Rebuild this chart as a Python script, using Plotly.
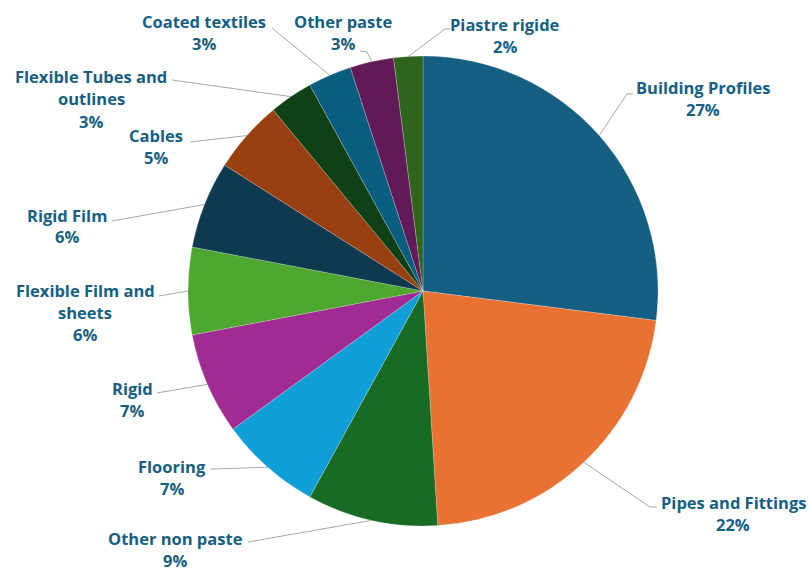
import math
import plotly.graph_objects as go

# ---------------- data ----------------
categories = [
    "Building Profiles", "Pipes and Fittings", "Other non paste", "Flooring",
    "Rigid", "Flexible Film and sheets", "Rigid Film", "Cables",
    "Flexible Tubes and outlines", "Coated textiles", "Other paste", "Piastre rigide",
]
values = [27, 22, 9, 7, 7, 6, 6, 5, 3, 3, 3, 2]

# label text lines (name split as in the chart)
name_lines = [
    ["Building Profiles"], ["Pipes and Fittings"], ["Other non paste"], ["Flooring"],
    ["Rigid"], ["Flexible Film and", "sheets"], ["Rigid Film"], ["Cables"],
    ["Flexible Tubes and", "outlines"], ["Coated textiles"], ["Other paste"], ["Piastre rigide"],
]

# ---------------- style / layout ----------------
colors = [
    "#156082", "#E97132", "#196B24", "#0F9ED5", "#A02B93", "#4EA72E",
    "#0D3A4E", "#994010", "#0F4016", "#095E80", "#601A58", "#2F641C",
]
W, H = 809, 570
CX, CY, R = 423, 291, 235          # pie centre / radius in pixels
TEXT_COLOR = "#156082"
LINE_H = 22
FONT = "Open Sans"
FONT_SIZE = 16.5

# label placement (pixel centre x, first-line centre y)
label_pos = [
    (703, 87), (733, 502), (175, 538), (172, 466), (132, 388), (85, 290),
    (67, 215), (156, 136), (91, 77), (204, 21), (343, 21), (505, 24),
]
# leader line bend/end points (pixels), start is computed on the pie edge
leader_pts = [
    [(627, 94), (633, 94)],
    [(650, 507), (657, 507)],
    [(248, 542)],
    [(211, 469)],
    [(157, 393)],
    [(159, 296)],
    [(112, 221)],
    [(190, 142)],
    [(172, 80)],
    [(272, 28)],
    [(367, 52), (360, 51)],
    [(445, 29), (450, 29)],
]


def px(x):
    return x / W


def py(y):
    return 1 - y / H


fig = go.Figure(go.Pie(
    labels=categories,
    values=values,
    sort=False,
    direction="clockwise",
    rotation=0,
    textinfo="none",
    hoverinfo="label+percent",
    marker=dict(colors=colors, line=dict(color="rgba(255,255,255,0.35)", width=0.6)),
    domain=dict(x=[px(CX - R), px(CX + R)], y=[py(CY + R), py(CY - R)]),
    showlegend=False,
))

total = sum(values)
annotations = []
shapes = []
cum = 0
for i, v in enumerate(values):
    mid = (cum + v / 2) / total * 2 * math.pi
    cum += v
    ex = CX + R * math.sin(mid)
    ey = CY - R * math.cos(mid)
    pts = [(ex, ey)] + leader_pts[i]
    path = "M " + " L ".join(f"{px(x):.5f},{py(y):.5f}" for x, y in pts)
    shapes.append(dict(type="path", xref="paper", yref="paper", path=path,
                       line=dict(color="#A6A6A6", width=1)))
    pct = f"{round(v / total * 100)}%"
    lines = name_lines[i] + [pct]
    lx, ly = label_pos[i]
    for j, t in enumerate(lines):
        annotations.append(dict(
            x=px(lx), y=py(ly + j * LINE_H), xref="paper", yref="paper",
            text=f"<b>{t}</b>", showarrow=False, xanchor="center", yanchor="middle",
            borderpad=0,
            font=dict(family=FONT, size=FONT_SIZE, color=TEXT_COLOR),
        ))

fig.update_layout(
    width=W, height=H,
    margin=dict(l=0, r=0, t=0, b=0),
    paper_bgcolor="white", plot_bgcolor="white",
    annotations=annotations, shapes=shapes,
)

fig.write_html("out.html")
